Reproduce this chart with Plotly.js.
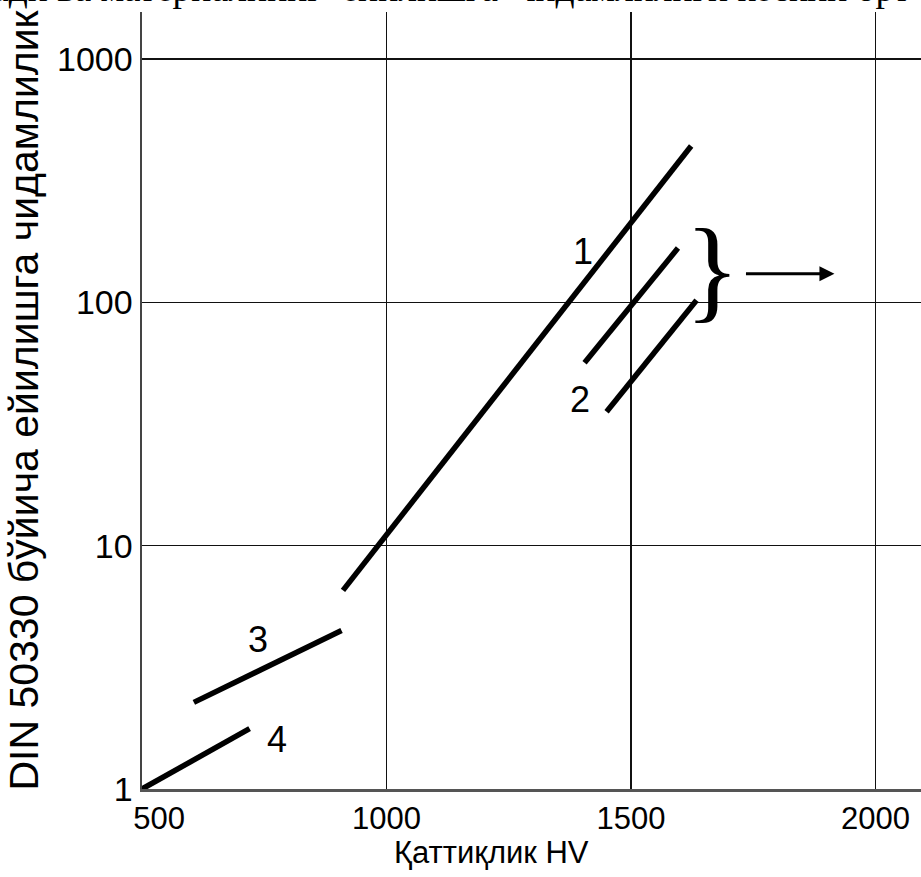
<!DOCTYPE html>
<html>
<head>
<meta charset="utf-8">
<script src="https://cdn.plot.ly/plotly-3.0.1.min.js"></script>
<style>html,body{margin:0;padding:0;background:#fff;overflow:hidden}</style>
</head>
<body>
<div id="chart" style="width:921px;height:877px"></div>
<script>
// ---- data ----
const hardnessTicks = [500, 1000, 1500, 2000];
const hardnessTickText = ['\u00a0\u00a0\u00a0\u00a0500', '1000', '1500', '2000'];
const wearTicks = [1, 10, 100, 1000];
const wearTickText = ['1', '10', '100', '1000'];

const line1X = [911, 1623];
const line1Y = [6.55, 439];
const line2aX = [1405, 1596];
const line2aY = [56.4, 167];
const line2bX = [1450, 1634];
const line2bY = [35.5, 102];
const line3X = [606, 908];
const line3Y = [2.27, 4.48];
const line4X = [500, 720];
const line4Y = [1.0, 1.77];

const curveLabels = ['1', '2', '3', '4'];
const curveLabelX = [1401, 1395, 737, 776];
const curveLabelY = [161, 39.8, 4.11, 1.6];

const topText = 'ади ва материалнинг  ейилишга  чидамлилиги кескин орт';
const xTitle = 'Қаттиқлик HV';
const yTitle = 'DIN 50330 бўйича ейилишга чидамлилик';

const sans = "'Liberation Sans', Arial, sans-serif";
const serif = "'Liberation Serif', 'DejaVu Serif', serif";

function seg(x, y) {
  return {x: x, y: y, type: 'scatter', mode: 'lines',
    line: {color: '#000', width: 5.5}, showlegend: false, hoverinfo: 'skip'};
}
const data = [seg(line1X, line1Y), seg(line2aX, line2aY), seg(line2bX, line2bY),
              seg(line3X, line3Y), seg(line4X, line4Y)];

const annotations = curveLabels.map((t, i) => ({
  text: t, x: curveLabelX[i], y: Math.log10(curveLabelY[i]), xref: 'x', yref: 'y',
  showarrow: false, font: {family: sans, size: 36, color: '#000'}
}));
// brace
annotations.push({text: '}', x: 1666, y: Math.log10(136), xref: 'x', yref: 'y',
  showarrow: false, font: {family: serif, size: 114, color: '#000'}});
// arrow
annotations.push({text: '', x: 1916, y: Math.log10(131), xref: 'x', yref: 'y',
  ax: 1732, ay: Math.log10(131), axref: 'x', ayref: 'y',
  showarrow: true, arrowhead: 2, arrowsize: 1, arrowwidth: 3, arrowcolor: '#000'});
// x-axis title (drawn as annotation so it sits where the reference has it)
annotations.push({text: xTitle, xref: 'paper', yref: 'paper', x: 0.449, y: 0,
  xanchor: 'center', yanchor: 'top', yshift: -44, showarrow: false,
  font: {family: sans, size: 31, color: '#000'}});
// top cut-off document text
annotations.push({text: topText, xref: 'paper', yref: 'paper', x: 0, y: 1,
  xanchor: 'left', yanchor: 'bottom', xshift: -152, yshift: 1,
  showarrow: false, font: {family: serif, size: 37.5, color: '#000'}});

const layout = {
  width: 921, height: 877,
  margin: {l: 142, r: 0, t: 12, b: 87.5, pad: 0},
  paper_bgcolor: '#fff', plot_bgcolor: '#fff',
  xaxis: {
    range: [500, 2093], tickvals: hardnessTicks, ticktext: hardnessTickText,
    showgrid: true, gridcolor: '#111', gridwidth: 1.5, zeroline: false,
    showline: true, linecolor: '#555', linewidth: 3, ticks: '',
    ticklabelstandoff: 0,
    tickfont: {family: sans, size: 31, color: '#000'}
  },
  yaxis: {
    type: 'log', range: [0, 3.193], tickvals: wearTicks, ticktext: wearTickText,
    showgrid: true, gridcolor: '#111', gridwidth: 1.5, zeroline: false,
    showline: true, linecolor: '#444', linewidth: 2.5, ticks: '',
    ticklabelstandoff: 0,
    tickfont: {family: sans, size: 34, color: '#000'},
    title: {text: yTitle, font: {family: sans, size: 41, color: '#000'}, standoff: 6}
  },
  annotations: annotations,
  showlegend: false
};

Plotly.newPlot('chart', data, layout, {staticPlot: true, displayModeBar: false});
</script>
</body>
</html>
